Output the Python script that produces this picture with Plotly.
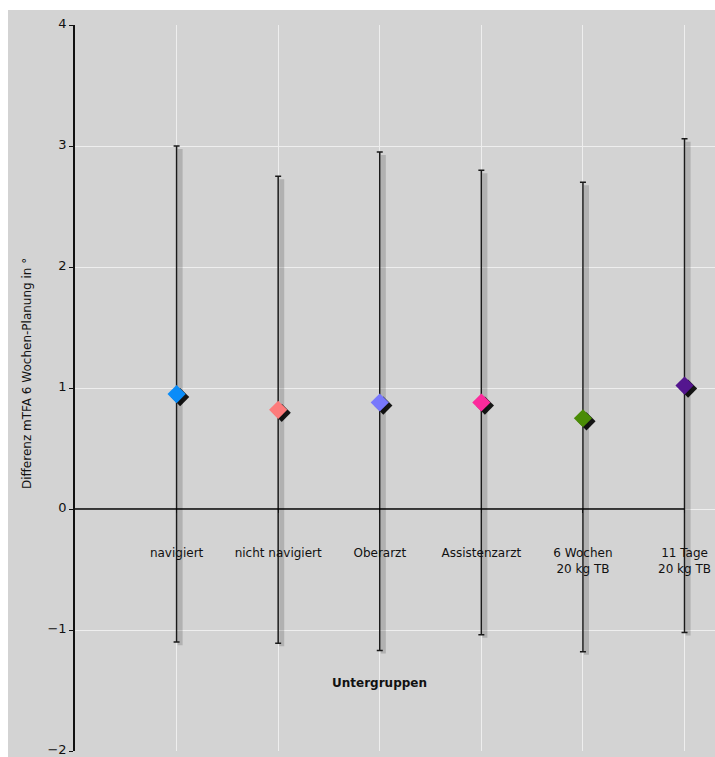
import plotly.graph_objects as go

categories = ["navigiert", "nicht navigiert", "Oberarzt", "Assistenzarzt",
              "6 Wochen<br>20 kg TB", "11 Tage<br>20 kg TB"]
x_pos = [1, 2, 3, 4, 5, 6]
mean_vals = [0.95, 0.82, 0.88, 0.88, 0.75, 1.02]
upper_vals = [3.00, 2.75, 2.95, 2.80, 2.70, 3.06]
lower_vals = [-1.10, -1.11, -1.17, -1.04, -1.18, -1.02]
colors = ["#0a8cf8", "#fd7b7b", "#7878fc", "#fc2a9c", "#4a8c05", "#54168f"]
y_ticks = [-2, -1, 0, 1, 2, 3, 4]

err_plus = [u - m for u, m in zip(upper_vals, mean_vals)]
err_minus = [m - l for m, l in zip(mean_vals, lower_vals)]

FONT = "DejaVu Sans"
GRAY = "#d3d3d3"
X_MAX = 6.3

# shadow offsets (styling, in data units ~ 3-4 px)
sx = 0.035
sy = 0.025

fig = go.Figure()

# error-bar shadows
fig.add_trace(go.Scatter(
    x=[x + sx for x in x_pos], y=[m - sy for m in mean_vals], mode="markers",
    marker=dict(size=1, color="rgba(0,0,0,0)"),
    error_y=dict(type="data", symmetric=False, array=err_plus, arrayminus=err_minus,
                 color="rgba(60,60,60,0.22)", thickness=5, width=0),
    hoverinfo="skip", showlegend=False))
# error bars
fig.add_trace(go.Scatter(
    x=x_pos, y=mean_vals, mode="markers",
    marker=dict(size=1, color="rgba(0,0,0,0)"),
    error_y=dict(type="data", symmetric=False, array=err_plus, arrayminus=err_minus,
                 color="#1a1a1a", thickness=1.5, width=3),
    hoverinfo="skip", showlegend=False))
# marker shadows
fig.add_trace(go.Scatter(
    x=[x + sx for x in x_pos], y=[m - sy for m in mean_vals], mode="markers",
    marker=dict(symbol="diamond", size=14, color="rgba(0,0,0,0.9)", line=dict(width=0)),
    hoverinfo="skip", showlegend=False))
# markers
fig.add_trace(go.Scatter(
    x=x_pos, y=mean_vals, mode="markers",
    marker=dict(symbol="diamond", size=14, color=colors, line=dict(width=0)),
    showlegend=False))

# gray panel
fig.add_shape(type="rect", xref="paper", yref="paper",
              x0=(8 - 75) / 640, x1=1,
              y0=(751 - 757) / 726, y1=(751 - 10) / 726,
              fillcolor=GRAY, line=dict(width=0), layer="below")
# x axis line at y = 0, from 0 to last category
fig.add_shape(type="line", xref="x", yref="y", x0=0, x1=x_pos[-1], y0=0, y1=0,
              line=dict(color="#000", width=1.4), layer="above")

fig.update_layout(
    width=715, height=757,
    margin=dict(l=75, r=0, t=25, b=6),
    paper_bgcolor="white", plot_bgcolor=GRAY,
    font=dict(family=FONT, size=12, color="#111"),
    xaxis=dict(range=[0, X_MAX], tickvals=x_pos, ticktext=categories,
               anchor="free", position=1/3,
               showline=False,
               ticks="outside", ticklen=3, tickcolor="#111",
               ticklabelstandoff=30,
               showgrid=True, gridcolor="#eeeeee", gridwidth=1,
               zeroline=False, tickfont=dict(size=12, family=FONT)),
    yaxis=dict(range=[-2, 4], tickvals=y_ticks,
               ticktext=[str(v).replace("-", "\u2212") for v in y_ticks],
               showline=True, linecolor="#111", linewidth=1.5,
               ticks="outside", ticklen=4, tickcolor="#111",
               ticklabeloverflow="hide past div", ticklabelshift=-2,
               showgrid=True, gridcolor="#eeeeee", gridwidth=1,
               zeroline=False, tickfont=dict(size=13, family=FONT)),
    annotations=[
        dict(text="Differenz mTFA 6 Wochen-Planung in °", textangle=-90,
             xref="paper", yref="y", x=(27 - 75) / 640, y=(509 - 374) / 121,
             xanchor="center", yanchor="middle", showarrow=False,
             font=dict(size=12, family=FONT, color="#111")),
        dict(text="<b>Untergruppen</b>", xref="x", yref="y",
             x=3.0, y=(509 - 683) / 121, xanchor="center", yanchor="middle",
             showarrow=False, font=dict(size=12, family=FONT, color="#111")),
    ],
)

fig.write_html("out.html")
